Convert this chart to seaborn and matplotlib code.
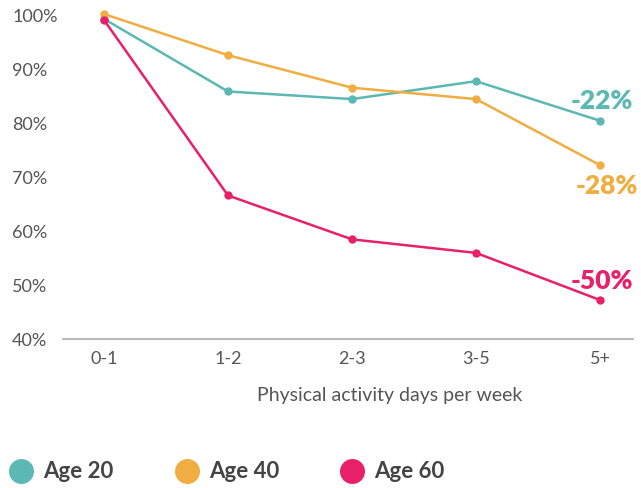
import matplotlib
matplotlib.use("Agg")
import matplotlib.pyplot as plt
from matplotlib.lines import Line2D
import seaborn as sns
import pandas as pd

days = ["0-1", "1-2", "2-3", "3-5", "5+"]
age20 = [99.1, 85.7, 84.3, 87.6, 80.3]
age40 = [100.0, 92.4, 86.4, 84.3, 72.1]
age60 = [98.9, 66.5, 58.4, 55.9, 47.2]
series_names = ["Age 20", "Age 40", "Age 60"]
change_labels = ["-22%", "-28%", "-50%"]
yticks = [40, 50, 60, 70, 80, 90, 100]

colors = ["#5cb8b2", "#f0ad41", "#e8206a"]

rows = []
for name, vals in zip(series_names, [age20, age40, age60]):
    for d, v in zip(days, vals):
        rows.append({"days": d, "value": v, "age": name})
df = pd.DataFrame(rows)

sns.set_theme(style="white")
plt.rcParams["font.family"] = ["Lato", "DejaVu Sans"]

W, H = 641, 489
fig = plt.figure(figsize=(W / 100, H / 100), dpi=100)
ax = fig.add_axes([63 / W, 149 / H, 570 / W, 340 / H])

sns.lineplot(data=df, x="days", y="value", hue="age", palette=colors,
             marker="o", markersize=6, markeredgewidth=0, linewidth=1.8,
             sort=False, legend=False, ax=ax, clip_on=False)

step = 124.0
ax.set_xlim(-41 / step, 4 + 33 / step)
ax.set_ylim(40, 100 + 15 / 5.4)

for s in ["top", "right", "left"]:
    ax.spines[s].set_visible(False)
ax.spines["bottom"].set_color("#aaaaaa")
ax.spines["bottom"].set_linewidth(1.2)

ax.set_yticks(yticks)
ax.set_yticklabels([f"{t}%" for t in yticks])
ax.tick_params(axis="y", length=0, pad=36.7, labelsize=13, labelcolor="#555555")
for lbl in ax.get_yticklabels():
    lbl.set_horizontalalignment("left")
ax.tick_params(axis="x", length=0, pad=8, labelsize=13, labelcolor="#555555")
ax.set_xlabel("")
ax.set_ylabel("")

fig.text(390 / W, 1 - 396 / H, "Physical activity days per week",
         ha="center", va="center", fontsize=14, color="#555555")

# end-of-line change labels (offsets in points from the last marker)
offsets = [(1.5, 15), (5, -14), (1.5, 14.5)]
for vals, txt, c, (dx, dy) in zip([age20, age40, age60], change_labels, colors, offsets):
    ax.annotate(txt, xy=(4, vals[-1]), xytext=(dx, dy), textcoords="offset points",
                ha="center", va="center", fontsize=19, fontweight="heavy", color=c,
                annotation_clip=False)

# legend: colored dots with bold labels along the bottom
legend_x = [21, 187, 352]
legend_y = 1 - 472 / H
for x, c, name in zip(legend_x, colors, series_names):
    fig.add_artist(Line2D([x / W], [legend_y], marker="o", color="none",
                          markerfacecolor=c, markeredgewidth=0, markersize=18,
                          transform=fig.transFigure))
    fig.text((x + 22) / W, legend_y, name, ha="left", va="center",
             fontsize=16, fontweight="bold", color="#444444")

fig.savefig("out.png", dpi=100)
